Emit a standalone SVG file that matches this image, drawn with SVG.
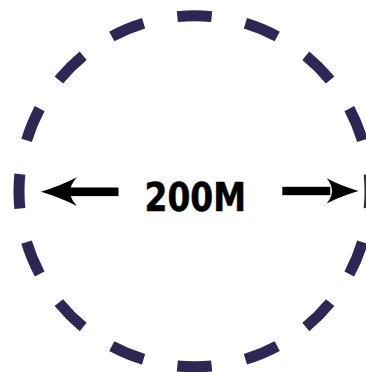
<svg xmlns="http://www.w3.org/2000/svg" width="366" height="372" viewBox="0 0 366 372">
<style>
.ring{fill:none;stroke:#2e2654;stroke-width:11;stroke-dasharray:50 50;stroke-dashoffset:25}
.arr{fill:#000}
.lbl{font-family:"DejaVu Sans",sans-serif;font-weight:bold;font-size:39.5px;fill:#000;stroke:#000;stroke-width:0.6;stroke-linejoin:round}
</style>
<rect width="366" height="372" fill="#fff"/>
<g id="boundary">
<circle class="ring" cx="194.5" cy="191.3" r="175.5" pathLength="1600"/>
</g>
<g id="connectors">
<rect class="arr" x="70" y="187.5" width="48.5" height="8.6"/>
<path class="arr" d="M41,191.8 Q60,186 77,177.3 Q70,185 70,191.8 Q70,198.5 77,206 Q60,197.5 41,191.8 Z"/>
<rect class="arr" x="282.3" y="186.8" width="48" height="8.4"/>
<path class="arr" d="M358.5,191 Q340,185.5 326.7,178.3 Q332,185 332,191 Q332,197 326.7,203.5 Q340,196.5 358.5,191 Z"/>
</g>
<g id="label">
<text class="lbl" x="144.5" y="211" textLength="101.5" lengthAdjust="spacingAndGlyphs">200M</text>
</g>
</svg>
